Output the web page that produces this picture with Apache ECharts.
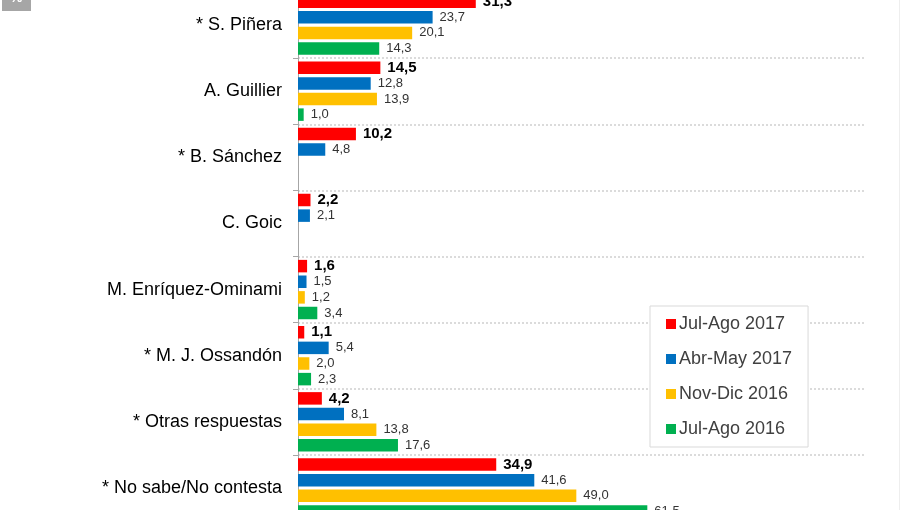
<!DOCTYPE html>
<html>
<head>
<meta charset="utf-8">
<script src="https://cdn.jsdelivr.net/npm/echarts@6/dist/echarts.min.js"></script>
<style>
html,body{margin:0;padding:0;background:#fff;}
#c{width:900px;height:510px;}
</style>
</head>
<body>
<div id="c"></div>
<script>
var categories = ["* S. Piñera", "A. Guillier", "* B. Sánchez", "C. Goic", "M. Enríquez-Ominami", "* M. J. Ossandón", "* Otras respuestas", "* No sabe/No contesta"];
var seriesNames = ["Jul-Ago 2017", "Abr-May 2017", "Nov-Dic 2016", "Jul-Ago 2016"];
var julAgo2017 = [31.3, 14.5, 10.2, 2.2, 1.6, 1.1, 4.2, 34.9];
var abrMay2017 = [23.7, 12.8, 4.8, 2.1, 1.5, 5.4, 8.1, 41.6];
var novDic2016 = [20.1, 13.9, null, null, 1.2, 2.0, 13.8, 49.0];
var julAgo2016 = [14.3, 1.0, null, null, 3.4, 2.3, 17.6, 61.5];
var colors = ["#FF0000", "#0070C0", "#FFC000", "#00B050"];

var allData = [julAgo2017, abrMay2017, novDic2016, julAgo2016];
var FONT = "Liberation Sans";
function fmt(p){ return p.value == null ? '' : p.value.toFixed(1).replace('.', ','); }

var series = allData.map(function(d, i){
  return {
    name: seriesNames[i],
    type: 'bar',
    data: d,
    barWidth: 12.5,
    barGap: '25%',
    itemStyle: { color: colors[i] },
    label: {
      show: true,
      position: 'right',
      distance: 7,
      formatter: fmt,
      fontFamily: FONT,
      fontSize: i === 0 ? 15 : 13,
      fontWeight: i === 0 ? 'bold' : 'normal',
      color: i === 0 ? '#000' : '#333'
    }
  };
});

var chart = echarts.init(document.getElementById('c'), null, {renderer: 'canvas'});
chart.setOption({
  animation: false,
  backgroundColor: '#fff',
  textStyle: { fontFamily: FONT },
  grid: { left: 298, right: 34, top: -8, height: 529, containLabel: false, outerBoundsMode: 'none' },
  xAxis: { type: 'value', min: 0, max: 100, show: false },
  yAxis: {
    type: 'category',
    inverse: true,
    data: categories,
    axisLine: { show: true, lineStyle: { color: '#a6a6a6', width: 1 } },
    axisTick: { show: true, length: 5, lineStyle: { color: '#a6a6a6' } },
    axisLabel: { fontFamily: FONT, fontSize: 18, color: '#000', margin: 16 },
    splitLine: { show: true, lineStyle: { color: '#d0d0d0', type: [2, 2], width: 1.5 } }
  },
  legend: {
    orient: 'vertical',
    left: 650,
    top: 306,
    padding: [9, 16, 9, 16],
    itemGap: 17,
    itemWidth: 10,
    itemHeight: 10,
    icon: 'rect',
    backgroundColor: '#fff',
    borderColor: '#d9d9d9',
    borderWidth: 1,
    textStyle: { fontFamily: FONT, fontSize: 18, color: '#404040', lineHeight: 17, padding: [0,0,0,-2] },
    data: seriesNames
  },
  graphic: [
    { type: 'rect', shape: { x: 2, y: -10, width: 29, height: 21 }, style: { fill: '#a6a6a6' } },
    { type: 'text', x: 10, y: -9, style: { text: '%', fill: '#fff', font: 'bold 14px Liberation Sans' } },
    { type: 'line', shape: { x1: 899.5, y1: 0, x2: 899.5, y2: 510 }, style: { stroke: '#eeeeee', lineWidth: 1 } }
  ],
  series: series
});
</script>
</body>
</html>
